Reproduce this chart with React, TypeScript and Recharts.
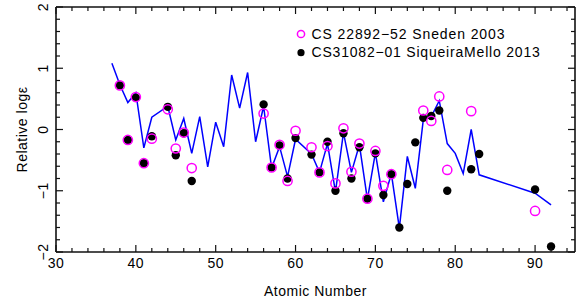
import React from 'react';
import { ComposedChart, Line, Scatter, XAxis, YAxis, Legend } from 'recharts';

// Model (blue line): atomic number and relative log eps
const lineZ = [37, 38, 39, 40, 41, 42, 44, 45, 46, 47, 48, 49, 50, 51, 52, 53, 54, 55, 56, 57, 58, 59, 60, 62, 63, 64, 65, 66, 67, 68, 69, 70, 71, 72, 73, 74, 75, 76, 77, 78, 79, 80, 81, 82, 83, 90, 92];
const lineV = [1.08, 0.73, 0.44, 0.6, -0.3, 0.2, 0.38, -0.17, 0.18, -0.39, 0.21, -0.61, 0.12, -0.28, 0.89, 0.35, 0.93, -0.2, 0.38, -0.63, -0.28, -0.77, -0.16, -0.4, -0.7, -0.23, -1.02, -0.05, -0.7, -0.25, -1.14, -0.38, -1.18, -0.72, -1.61, -0.44, -0.96, 0.16, 0.21, 0.47, -0.23, -0.39, -0.72, 0.0, -0.74, -1.04, -1.23];

// CS 22892-52 Sneden 2003 (magenta open circles)
const snedenZ = [38, 39, 40, 41, 42, 44, 45, 46, 47, 56, 57, 58, 59, 60, 62, 63, 64, 65, 66, 67, 68, 69, 70, 71, 72, 76, 77, 78, 79, 82, 90];
const snedenV = [0.72, -0.17, 0.53, -0.55, -0.15, 0.33, -0.31, -0.05, -0.63, 0.26, -0.62, -0.25, -0.84, -0.02, -0.29, -0.7, -0.27, -0.88, 0.02, -0.69, -0.23, -1.13, -0.35, -0.92, -0.73, 0.31, 0.14, 0.54, -0.66, 0.3, -1.33];

// CS31082-01 SiqueiraMello 2013 (black filled circles)
const siqZ = [38, 39, 40, 41, 42, 44, 45, 46, 47, 56, 57, 58, 59, 60, 62, 63, 64, 65, 66, 67, 68, 69, 70, 71, 72, 73, 74, 75, 76, 77, 78, 79, 82, 83, 90, 92];
const siqV = [0.72, -0.17, 0.52, -0.55, -0.11, 0.37, -0.42, -0.06, -0.84, 0.41, -0.62, -0.26, -0.8, -0.14, -0.41, -0.7, -0.2, -1.0, -0.06, -0.8, -0.29, -1.13, -0.39, -1.07, -0.73, -1.6, -0.89, -0.21, 0.19, 0.22, 0.31, -1.0, -0.65, -0.4, -0.98, -1.91];

const xTicks = [30, 32, 34, 36, 38, 40, 42, 44, 46, 48, 50, 52, 54, 56, 58, 60, 62, 64, 66, 68, 70, 72, 74, 76, 78, 80, 82, 84, 86, 88, 90, 92, 94];
const yTicks = [-2, -1.8, -1.6, -1.4, -1.2, -1, -0.8, -0.6, -0.4, -0.2, 0, 0.2, 0.4, 0.6, 0.8, 1, 1.2, 1.4, 1.6, 1.8, 2];

const legendLabels = ['CS 22892\u221252 Sneden 2003', 'CS31082\u221201 SiqueiraMello 2013'];
const xTitle = 'Atomic Number';
const yTitle = 'Relative log\u03b5';

const toPoints = (zs: number[], vs: number[]) => zs.map((z, i) => ({ z, v: vs[i] }));
const lineData = toPoints(lineZ, lineV);
const snedenData = toPoints(snedenZ, snedenV);
const siqData = toPoints(siqZ, siqV);

const AXIS = '#111';
const FONT = '"Liberation Sans", Arial, Helvetica, sans-serif';
const MAJ = 7;
const MIN = 4;

const isMajor = (v: number, step: number) => Math.abs(v / step - Math.round(v / step)) < 1e-6;
const fmt = (v: number) => (v < 0 ? '\u2212' + Math.abs(Math.round(v)) : String(Math.round(v)));

const textStyle = { fontFamily: FONT, fontSize: 14, fill: '#000', letterSpacing: 0.5 } as const;

function BottomTick(props: any) {
  const { x, y, payload } = props;
  const major = isMajor(payload.value, 10);
  return (
    <g>
      <line x1={x} y1={y} x2={x} y2={y - (major ? MAJ : MIN)} stroke={AXIS} strokeWidth={1.2} />
      {major && (
        <text x={x} y={y + 16} textAnchor="middle" style={textStyle}>
          {payload.value}
        </text>
      )}
    </g>
  );
}

function TopTick(props: any) {
  const { x, y, payload } = props;
  const major = isMajor(payload.value, 10);
  return <line x1={x} y1={y} x2={x} y2={y + (major ? MAJ : MIN)} stroke={AXIS} strokeWidth={1.2} />;
}

function LeftTick(props: any) {
  const { x, y, payload } = props;
  const major = isMajor(payload.value, 1);
  const lx = x - 8.5;
  return (
    <g>
      <line x1={x} y1={y} x2={x + (major ? MAJ : MIN)} y2={y} stroke={AXIS} strokeWidth={1.2} />
      {major && (
        <text x={lx} y={y} textAnchor="middle" transform={`rotate(-90, ${lx}, ${y})`} style={textStyle}>
          {fmt(payload.value)}
        </text>
      )}
    </g>
  );
}

function RightTick(props: any) {
  const { x, y, payload } = props;
  const major = isMajor(payload.value, 1);
  return <line x1={x} y1={y} x2={x - (major ? MAJ : MIN)} y2={y} stroke={AXIS} strokeWidth={1.2} />;
}

const XTitle = (props: any) => {
  const vb = props.viewBox || {};
  const cx = vb.x + vb.width / 2;
  return (
    <text x={cx} y={vb.y + 44} textAnchor="middle" style={textStyle}>
      {xTitle}
    </text>
  );
};

const YTitle = (props: any) => {
  const vb = props.viewBox || {};
  const lx = vb.x + vb.width - 29;
  const cy = vb.y + vb.height / 2;
  return (
    <text x={lx} y={cy} textAnchor="middle" transform={`rotate(-90, ${lx}, ${cy})`} style={textStyle}>
      {yTitle}
    </text>
  );
};

const LegendBox = () => (
  <svg width={260} height={42} style={{ display: 'block', overflow: 'visible' }}>
    <circle cx={6} cy={11} r={3.6} fill="none" stroke="#ff00ff" strokeWidth={1.5} />
    <text x={16.5} y={15.5} style={{ ...textStyle, letterSpacing: 0.9 }}>
      {legendLabels[0]}
    </text>
    <circle cx={6} cy={29.7} r={3.6} fill="#000" />
    <text x={16.5} y={34.2} style={{ ...textStyle, letterSpacing: 0.8 }}>
      {legendLabels[1]}
    </text>
  </svg>
);

const BlackDot = (p: any) => <circle cx={p.cx} cy={p.cy} r={4.2} fill="#000" />;
const PinkRing = (p: any) => <circle cx={p.cx} cy={p.cy} r={4.6} fill="none" stroke="#ff00ff" strokeWidth={1.5} />;

export default function App() {
  return (
    <div style={{ position: 'absolute', left: 0, top: 0, width: 577, height: 304, background: '#fff' }}>
      <ComposedChart width={577} height={304} margin={{ top: 6, right: 1, bottom: 51, left: 55 }}>
        <XAxis
          xAxisId="b"
          type="number"
          dataKey="z"
          domain={[30, 95]}
          ticks={xTicks}
          interval={0}
          height={1}
          tickSize={0}
          tickMargin={0}
          tickLine={false}
          tick={<BottomTick />}
          axisLine={{ stroke: AXIS, strokeWidth: 1.6 }}
          allowDataOverflow
          label={<XTitle />}
        />
        <XAxis
          xAxisId="t"
          orientation="top"
          type="number"
          dataKey="z"
          domain={[30, 95]}
          ticks={xTicks}
          interval={0}
          height={1}
          tickSize={0}
          tickMargin={0}
          tickLine={false}
          tick={<TopTick />}
          axisLine={{ stroke: AXIS, strokeWidth: 1.6 }}
          allowDataOverflow
        />
        <YAxis
          yAxisId="l"
          type="number"
          dataKey="v"
          domain={[-2, 2]}
          ticks={yTicks}
          interval={0}
          width={1}
          tickSize={0}
          tickMargin={0}
          tickLine={false}
          tick={<LeftTick />}
          axisLine={{ stroke: AXIS, strokeWidth: 1.6 }}
          allowDataOverflow
          label={<YTitle />}
        />
        <YAxis
          yAxisId="r"
          orientation="right"
          type="number"
          dataKey="v"
          domain={[-2, 2]}
          ticks={yTicks}
          interval={0}
          width={1}
          tickSize={0}
          tickMargin={0}
          tickLine={false}
          tick={<RightTick />}
          axisLine={{ stroke: AXIS, strokeWidth: 1.6 }}
          allowDataOverflow
        />
        <Line
          xAxisId="b"
          yAxisId="l"
          data={lineData}
          dataKey="v"
          type="linear"
          stroke="#0000ff"
          strokeWidth={1.5}
          dot={false}
          activeDot={false}
          isAnimationActive={false}
          legendType="none"
        />
        <Scatter
          xAxisId="b"
          yAxisId="l"
          data={siqData}
          dataKey="v"
          shape={BlackDot}
          isAnimationActive={false}
        />
        <Scatter
          xAxisId="b"
          yAxisId="l"
          data={snedenData}
          dataKey="v"
          shape={PinkRing}
          isAnimationActive={false}
        />
        <Legend
          layout="horizontal"
          verticalAlign="middle"
          align="center"
          wrapperStyle={{ left: 295, top: 23, width: 260, height: 42 }}
          content={() => <LegendBox />}
        />
      </ComposedChart>
    </div>
  );
}
